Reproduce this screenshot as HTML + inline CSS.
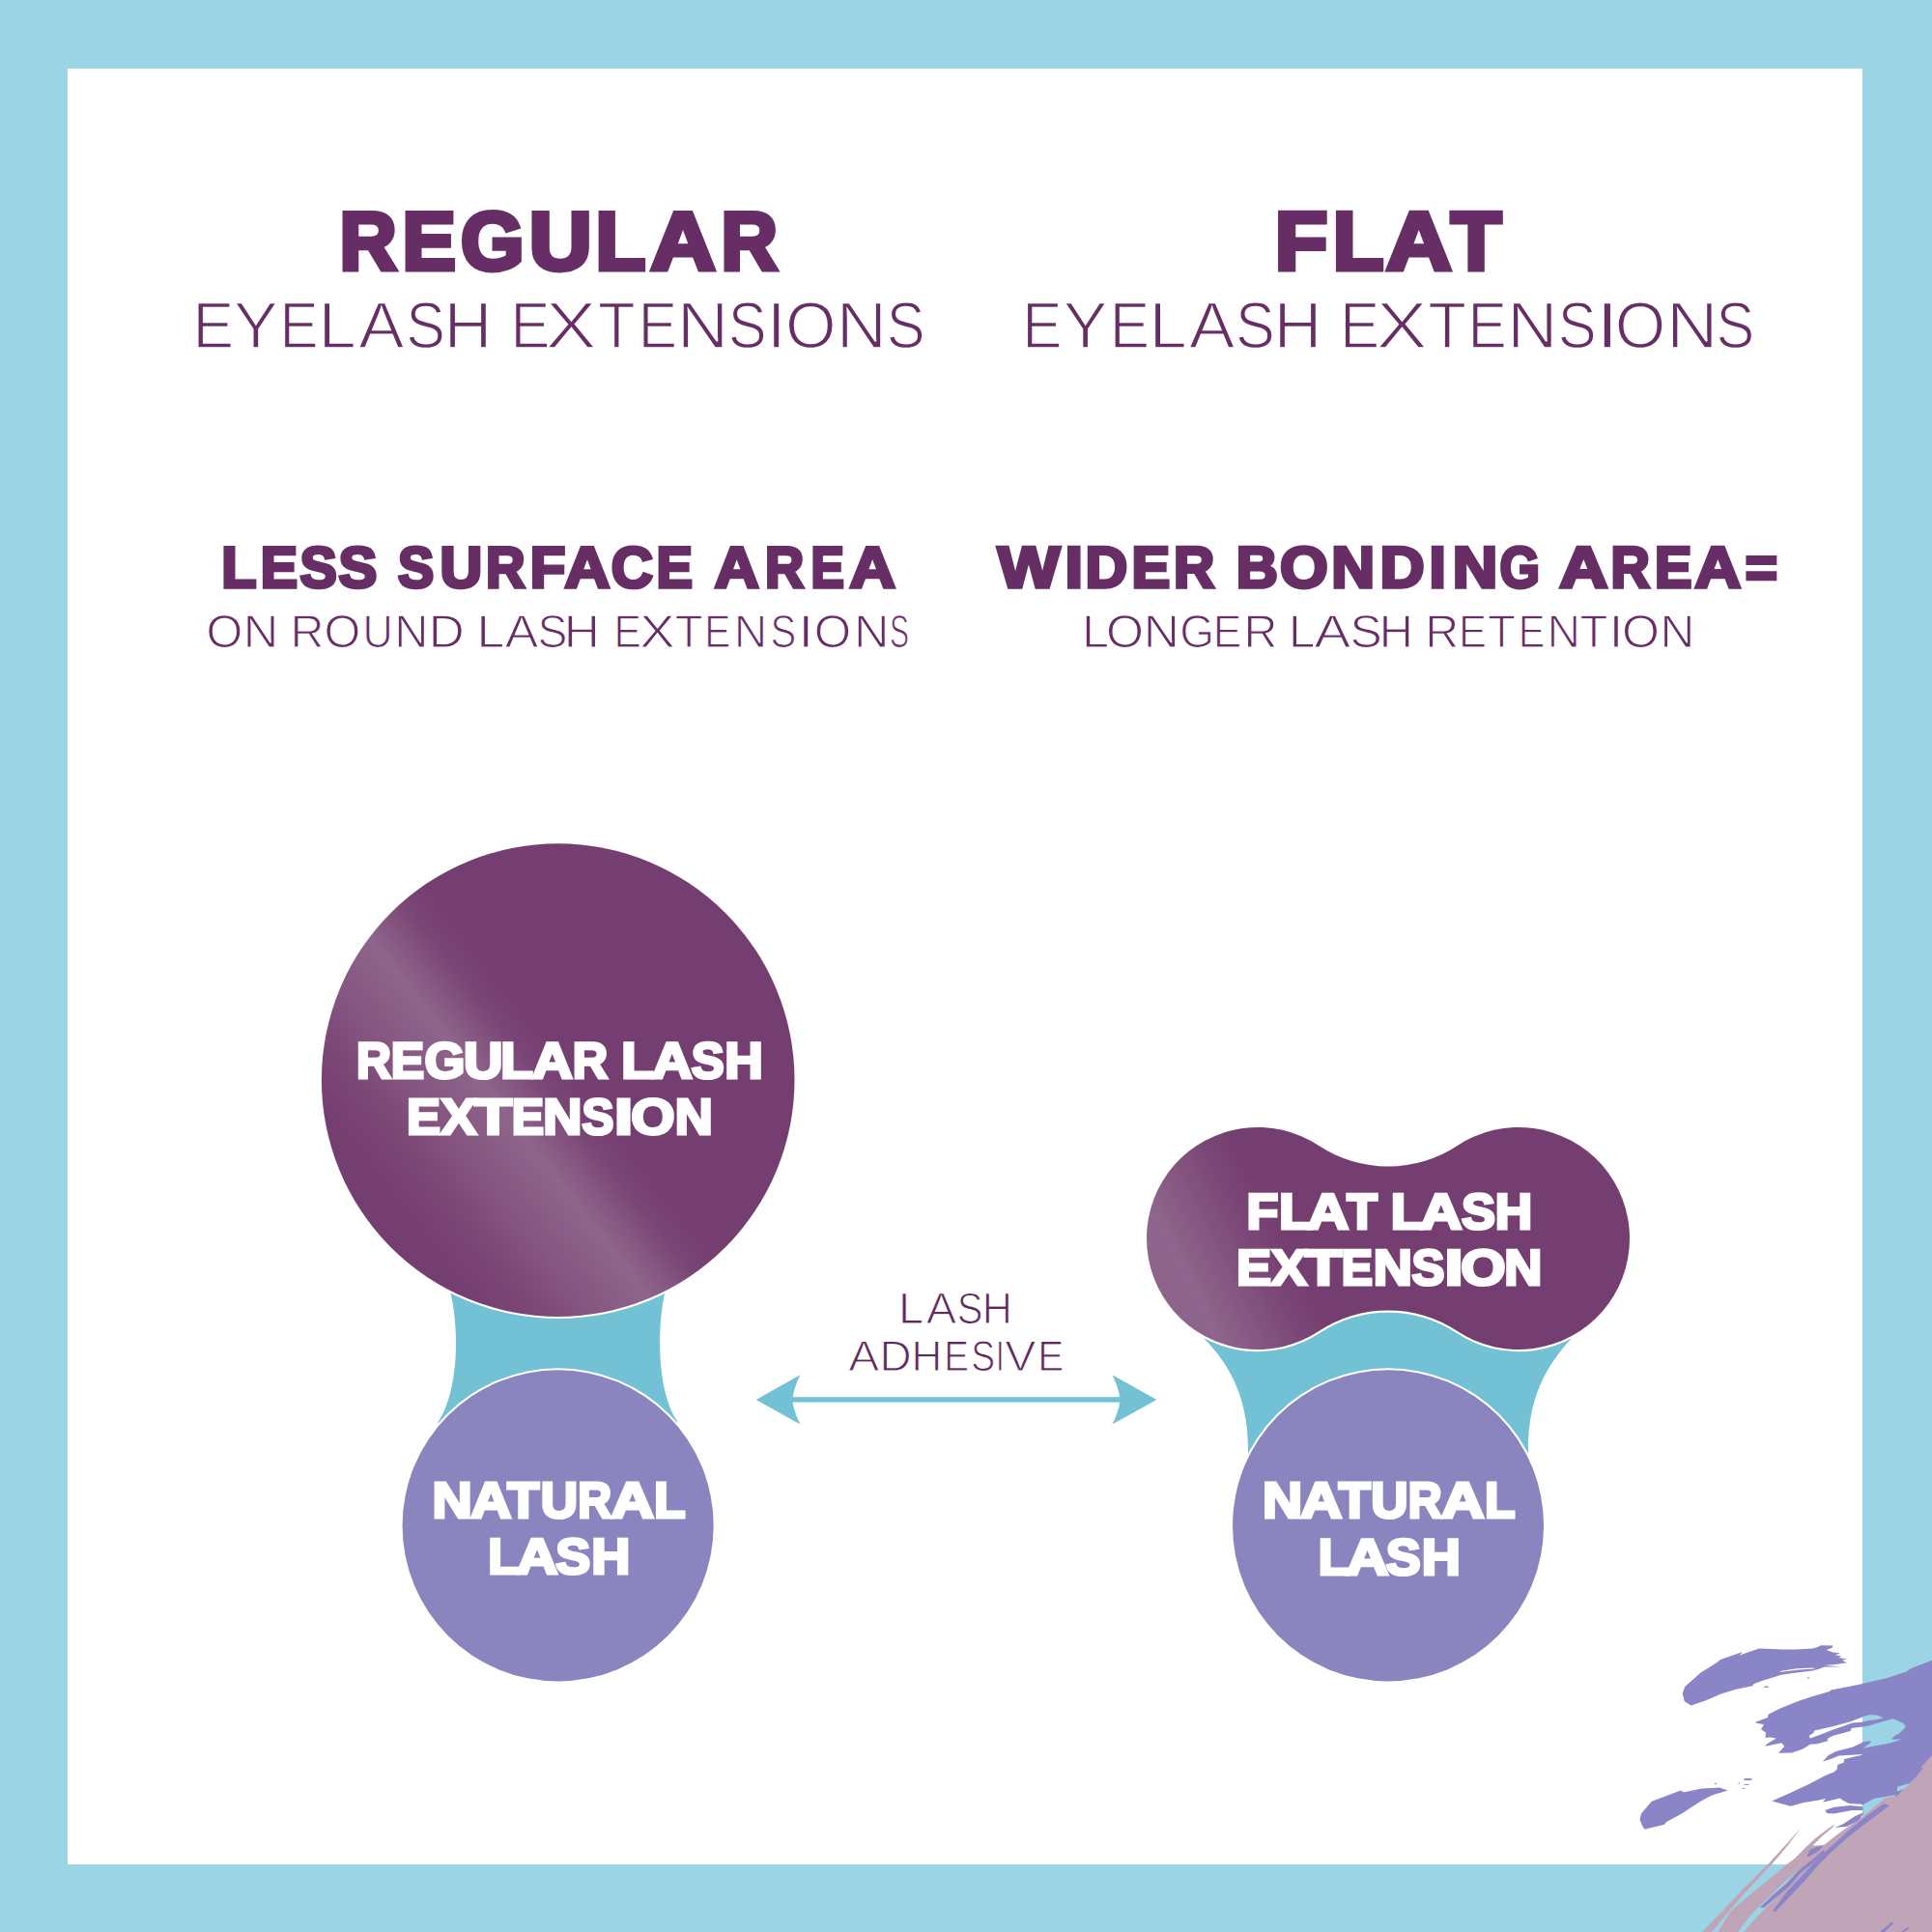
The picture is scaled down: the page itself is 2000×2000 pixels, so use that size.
<!DOCTYPE html>
<html><head><meta charset="utf-8"><title>Regular vs Flat Eyelash Extensions</title>
<style>
html,body{margin:0;padding:0;background:#9BD5E5;width:2000px;height:2000px;overflow:hidden}
svg{display:block}
text{font-family:"Liberation Sans",sans-serif;font-kerning:none;text-rendering:geometricPrecision}
</style></head><body>
<svg width="2000" height="2000" viewBox="0 0 2000 2000" xmlns="http://www.w3.org/2000/svg">
<defs>
<linearGradient id="gBig" gradientUnits="userSpaceOnUse" x1="280.6" y1="1084.1" x2="517.4" y2="899.9">
<stop offset="0" stop-color="#753E70"/>
<stop offset="0.13" stop-color="#7A4575"/>
<stop offset="0.3" stop-color="#85557F"/>
<stop offset="0.5" stop-color="#8E658C"/>
<stop offset="0.583" stop-color="#855680"/>
<stop offset="0.667" stop-color="#7A4676"/>
<stop offset="0.767" stop-color="#753E70"/>
<stop offset="1" stop-color="#753E70"/>
</linearGradient>
<linearGradient id="gFlat" gradientUnits="userSpaceOnUse" x1="1084.9" y1="1367.0" x2="1353.1" y2="1233.0">
<stop offset="0" stop-color="#8A5F88"/>
<stop offset="0.3" stop-color="#8C6289"/>
<stop offset="0.5" stop-color="#8E658C"/>
<stop offset="0.633" stop-color="#84557F"/>
<stop offset="0.75" stop-color="#7B4777"/>
<stop offset="0.85" stop-color="#753E70"/>
<stop offset="1" stop-color="#753E70"/>
</linearGradient>
</defs>
<rect x="0" y="0" width="2000" height="2000" fill="#9BD5E5"/>
<rect x="70" y="71" width="1858" height="1859" fill="#FFFFFF"/>
<!-- left diagram -->
<path d="M466.5 1338.8 L470 1300 L685 1300 L688.1 1338.8 C680 1375 680 1440 701.2 1471.6 L690 1520 L465 1520 L453.3 1472.4 C475.3 1440 475.3 1375 466.5 1338.8 Z" fill="#72C1D4"/>
<circle cx="577.7" cy="1118.1" r="247.0" fill="#FFFFFF"/>
<circle cx="577.7" cy="1118.1" r="244.8" fill="url(#gBig)"/>
<circle cx="577.6" cy="1579.35" r="163.05" fill="#FFFFFF"/>
<circle cx="577.6" cy="1579.35" r="161.05" fill="#8A85BF"/>
<!-- right diagram -->
<path d="M1246.3 1385.2 L1262 1340 L1612 1340 L1627.8 1384.6 C1599 1415 1581 1450 1582 1504.8 L1570 1540 L1300 1540 L1292 1504.8 C1293 1450 1275 1415 1246.3 1385.2 Z" fill="#72C1D4"/>
<path d="M1365.30 1185.99 A130.25 130.25 0 0 0 1508.70 1185.99 A115.0 115.0 0 1 1 1508.70 1378.01 A130.25 130.25 0 0 0 1365.30 1378.01 A115.0 115.0 0 1 1 1365.30 1185.99 Z" fill="#FFFFFF" stroke="#FFFFFF" stroke-width="4.4"/>
<path d="M1365.30 1185.99 A130.25 130.25 0 0 0 1508.70 1185.99 A115.0 115.0 0 1 1 1508.70 1378.01 A130.25 130.25 0 0 0 1365.30 1378.01 A115.0 115.0 0 1 1 1365.30 1185.99 Z" fill="url(#gFlat)"/>
<circle cx="1437.0" cy="1579.35" r="163.05" fill="#FFFFFF"/>
<circle cx="1437.0" cy="1579.35" r="161.05" fill="#8A85BF"/>
<!-- arrow -->
<rect x="815" y="1446.2" width="350" height="5.4" fill="#72C1D4"/><path d="M782.7 1448.9 L828.4 1423.2 Q822 1436 820.1 1448.9 Q822 1462 828.4 1474.5 Z" fill="#72C1D4"/><path d="M1197.5 1448.9 L1151.3 1423.2 Q1158 1436 1159.6 1448.9 Q1158 1462 1151.3 1474.5 Z" fill="#72C1D4"/>
<!-- brush decoration -->
<path d="M1741.7 1753.0 L1744.1 1746.2 L1750.5 1740.5 L1760.9 1731.2 L1771.2 1725.0 L1781.6 1717.8 L1791.9 1714.2 L1803.8 1710.0 L1800.7 1713.6 L1820.9 1706.6 L1835.0 1706.9 L1844.0 1707.6 L1858.0 1707.6 L1876.6 1706.4 L1881.2 1705.2 L1885.0 1703.2 L1897.5 1703.4 L1896.6 1705.7 L1890.5 1708.0 L1897.5 1710.4 L1905.0 1711.3 L1899.9 1713.2 L1905.9 1714.3 L1903.6 1716.0 L1912.0 1717.4 L1906.9 1718.8 L1912.0 1721.3 L1899.9 1723.0 L1888.2 1723.9 L1905.5 1725.2 L1888.0 1725.8 L1883.6 1727.6 L1876.6 1729.5 L1858.0 1731.8 L1844.0 1733.7 L1833.7 1737.0 L1825.6 1739.5 L1815.7 1743.1 L1814.2 1745.2 L1797.1 1748.8 L1781.6 1753.5 L1766.1 1760.2 L1750.5 1765.4 L1743.8 1761.3 Z M1841.6 1730.9 L1862.6 1728.5 L1879.4 1727.6 L1876.0 1726.6 L1860.0 1727.3 L1845.0 1729.6 Z" fill="#8A85C6" fill-rule="evenodd"/>
<path d="M1927.5 1743.0 L1953.8 1736.9 L1974.0 1730.2 L1977.4 1727.5 L2000.0 1718.7 L2000.0 1835.0 L1975.0 1858.0 L1955.0 1875.0 L1935.0 1890.0 L1927.5 1893.0 Z M1927.5 1777.3 L1935.0 1775.3 L1943.1 1775.6 L1949.8 1778.6 L1943.1 1780.0 L1933.6 1781.3 L1927.5 1782.7 Z M1927.5 1787.4 L1933.6 1786.7 L1947.1 1782.7 L1959.2 1779.3 L1964.6 1781.3 L1971.3 1784.7 L1972.7 1788.1 L1967.3 1793.4 L1960.6 1797.5 L1958.5 1800.8 L1968.6 1800.2 L1963.9 1802.2 L1953.8 1804.9 L1940.4 1807.6 L1928.9 1809.6 L1937.0 1803.5 L1936.3 1802.2 L1927.5 1803.5 Z M1927.5 1869.0 L1939.6 1862.1 L1962.6 1858.0 L1955.0 1868.0 L1945.0 1876.0 L1935.0 1881.0 L1927.5 1881.0 Z M1963.9 1849.7 L1979.4 1845.3 L1975.0 1850.0 L1964.0 1854.7 Z" fill="#8A85C6" fill-rule="evenodd"/>
<path d="M1817.1 1782.8 L1829.9 1777.9 L1830.5 1774.8 L1842.9 1768.5 L1862.8 1760.5 L1878.3 1755.5 L1893.9 1751.1 L1895.7 1749.6 L1928.5 1742.9 L1928.5 1777.3 L1915.6 1782.2 L1897.0 1787.2 L1878.3 1791.5 L1877.7 1793.4 L1872.7 1797.1 L1874.0 1799.6 L1887.6 1794.6 L1897.6 1790.6 L1909.4 1786.6 L1917.5 1783.4 L1928.5 1782.7 L1928.5 1787.4 L1916.8 1789.0 L1915.6 1792.1 L1897.0 1797.1 L1891.4 1800.2 L1892.6 1802.1 L1881.4 1805.2 L1874.0 1805.8 L1865.9 1810.8 L1854.7 1814.5 L1841.1 1814.8 L1847.3 1807.7 L1844.2 1804.3 L1827.4 1807.7 L1828.6 1805.8 L1838.6 1799.6 L1833.6 1798.4 L1827.4 1798.7 L1828.0 1793.4 L1823.0 1790.3 L1826.1 1785.3 L1817.5 1783.4 Z" fill="#8A85C6" />
<path d="M1886.8 1823.6 L1893.0 1817.0 L1900.5 1813.0 L1917.3 1808.7 L1928.5 1803.7 L1928.5 1816.1 L1903.6 1817.4 L1895.0 1821.0 Z" fill="#8A85C6" />
<path d="M1834.2 1864.6 L1854.9 1855.3 L1872.5 1847.0 L1890.0 1837.7 L1898.3 1834.6 L1901.7 1831.7 L1902.4 1826.7 L1908.6 1824.8 L1909.2 1821.1 L1928.5 1816.5 L1928.5 1867.7 L1914.2 1867.1 L1908.0 1864.0 L1904.8 1861.5 L1886.8 1865.8 L1890.0 1862.1 L1880.0 1864.0 L1867.0 1866.0 L1853.8 1869.8 Z" fill="#8A85C6" />
<path d="M1889.3 1873.9 L1898.6 1870.8 L1914.8 1868.9 L1928.5 1870.2 L1928.5 1874.0 L1917.3 1873.9 L1898.6 1877.6 L1891.2 1877.0 Z" fill="#8A85C6" />
<path d="M1697.5 1883.8 L1699.1 1877.2 L1709.9 1864.8 L1739.7 1853.6 L1743.0 1855.3 L1762.0 1851.4 L1780.3 1850.5 L1788.6 1853.4 L1772.0 1858.6 L1760.4 1864.8 L1741.3 1877.2 L1724.8 1886.3 L1723.1 1888.8 L1702.4 1893.8 L1699.9 1889.6 Z" fill="#8A85C6" />
<path d="M1899.3 1888.3 L1891.4 1893.7 L1879.0 1903.2 L1868.6 1913.1 L1858.3 1923.5 L1850.0 1929.7 L1822.0 1952.8 L1791.0 1978.7 L1778.6 2000.0 L2000.0 2000.0 L2000.0 1818.6 L1982.5 1840.4 L1963.9 1859.0 L1952.0 1861.0 L1928.7 1880.0 L1912.0 1892.0 L1909.0 1894.0 L1899.7 1900.7 L1887.7 1910.2 L1876.5 1910.6 L1886.4 1900.7 L1896.8 1892.0 Z" fill="#C0A5B9" />
<path d="M1864.9 1891.6 L1850.0 1908.2 L1831.0 1929.0 L1800.0 1960.0 L1770.0 1992.0 L1762.0 2000.0 L1772.0 2000.0 L1803.0 1963.0 L1835.0 1929.0 L1851.0 1910.0 Z" fill="#C0A5B9" />
<path d="M2000.0 1817.0 L1988.0 1830.0 L1991.0 1830.0 L2000.0 1821.5 Z" fill="#C0A5B9" />
<path d="M1864.0 1934.0 L1850.0 1946.0 L1830.0 1965.0 L1812.0 1983.0 L1799.0 2000.0 L1805.0 2000.0 L1818.0 1985.0 L1836.0 1967.0 L1853.0 1950.0 L1866.0 1937.0 Z" fill="#9BD5E5" />
<path d="M1950.0 1867.0 L1930.0 1881.5 L1913.0 1895.5 L1895.5 1911.5 L1879.0 1927.0 L1867.0 1940.0 L1850.0 1958.0 L1835.0 1978.0 L1838.0 1979.0 L1855.0 1961.0 L1870.0 1945.0 L1881.0 1932.0 L1897.0 1916.0 L1914.0 1901.0 L1932.0 1887.0 L1956.0 1869.0 Z" fill="#8A85C6" />
<path d="M1899.3 1892.0 L1908.0 1888.3 L1920.4 1880.0 L1930.0 1876.0 L1924.5 1884.1 L1912.1 1890.8 Z" fill="#8A85C6" />
<path d="M1870.7 1921.5 L1873.5 1915.0 L1880.0 1912.0 L1887.7 1910.2 L1884.0 1915.0 L1876.0 1920.0 L1872.0 1922.2 Z" fill="#8A85C6" />
<path d="M1888.0 1915.0 L1875.0 1926.0 L1862.0 1936.0 L1849.0 1950.0 L1835.0 1962.0 L1822.0 1974.6 L1826.0 1975.0 L1840.0 1963.0 L1853.0 1952.0 L1864.0 1939.0 L1877.0 1928.5 L1889.0 1918.0 Z" fill="#8A85C6" />
<path d="M1946.0 2000.0 L1958.0 1990.0 L1961.0 1990.0 L1951.0 2000.0 Z" fill="#8A85C6" />
<path d="M1968.0 2000.0 L1975.0 1995.0 L1977.0 1996.0 L1971.0 2000.0 Z" fill="#8A85C6" />
<ellipse cx="1828.5" cy="1746.2" rx="2.6" ry="0.7" fill="#8A85C6"/>
<ellipse cx="1872" cy="1737" rx="1.2" ry="0.8" fill="#8A85C6"/>
<ellipse cx="1800.3" cy="1846" rx="0.8" ry="0.7" fill="#8A85C6"/>
<ellipse cx="1776" cy="1846.5" rx="1.2" ry="0.7" fill="#8A85C6"/>
<ellipse cx="1809.5" cy="1842" rx="4.5" ry="1.1" fill="#8A85C6"/>
<ellipse cx="1808" cy="1847.5" rx="3" ry="0.6" fill="#8A85C6"/>
<ellipse cx="1805" cy="1851.5" rx="1.5" ry="0.6" fill="#8A85C6"/>
<!-- text -->
<text x="351.46" y="278.95" font-size="85.03" font-weight="bold" textLength="59.21" lengthAdjust="spacingAndGlyphs" fill="#672D65" stroke="#672D65" stroke-width="5.10" stroke-linejoin="miter" stroke-miterlimit="4">R</text>
<text x="416.40" y="278.95" font-size="85.03" font-weight="bold" textLength="55.33" lengthAdjust="spacingAndGlyphs" fill="#672D65" stroke="#672D65" stroke-width="5.10" stroke-linejoin="miter" stroke-miterlimit="4">E</text>
<text x="476.99" y="278.95" font-size="85.03" font-weight="bold" textLength="65.53" lengthAdjust="spacingAndGlyphs" fill="#672D65" stroke="#672D65" stroke-width="5.10" stroke-linejoin="miter" stroke-miterlimit="4">G</text>
<text x="547.75" y="278.95" font-size="85.03" font-weight="bold" textLength="64.91" lengthAdjust="spacingAndGlyphs" fill="#672D65" stroke="#672D65" stroke-width="5.10" stroke-linejoin="miter" stroke-miterlimit="4">U</text>
<text x="616.58" y="278.95" font-size="85.03" font-weight="bold" textLength="51.75" lengthAdjust="spacingAndGlyphs" fill="#672D65" stroke="#672D65" stroke-width="5.10" stroke-linejoin="miter" stroke-miterlimit="4">L</text>
<text x="673.64" y="278.95" font-size="85.03" font-weight="bold" textLength="67.08" lengthAdjust="spacingAndGlyphs" fill="#672D65" stroke="#672D65" stroke-width="5.10" stroke-linejoin="miter" stroke-miterlimit="4">A</text>
<text x="746.54" y="278.95" font-size="85.03" font-weight="bold" textLength="58.39" lengthAdjust="spacingAndGlyphs" fill="#672D65" stroke="#672D65" stroke-width="5.10" stroke-linejoin="miter" stroke-miterlimit="4">R</text>
<text x="199.57" y="360.31" font-size="67.62" font-weight="normal" textLength="42.65" lengthAdjust="spacingAndGlyphs" fill="#672D65" stroke="#fff" stroke-width="1.62" stroke-linejoin="miter" stroke-miterlimit="4">E</text>
<text x="241.90" y="360.31" font-size="67.62" font-weight="normal" textLength="45.77" lengthAdjust="spacingAndGlyphs" fill="#672D65" stroke="#fff" stroke-width="1.62" stroke-linejoin="miter" stroke-miterlimit="4">Y</text>
<text x="289.58" y="360.31" font-size="67.62" font-weight="normal" textLength="40.10" lengthAdjust="spacingAndGlyphs" fill="#672D65" stroke="#fff" stroke-width="1.62" stroke-linejoin="miter" stroke-miterlimit="4">E</text>
<text x="329.62" y="360.31" font-size="67.62" font-weight="normal" textLength="39.26" lengthAdjust="spacingAndGlyphs" fill="#672D65" stroke="#fff" stroke-width="1.62" stroke-linejoin="miter" stroke-miterlimit="4">L</text>
<text x="371.17" y="360.31" font-size="67.62" font-weight="normal" textLength="47.22" lengthAdjust="spacingAndGlyphs" fill="#672D65" stroke="#fff" stroke-width="1.62" stroke-linejoin="miter" stroke-miterlimit="4">A</text>
<text x="420.14" y="360.31" font-size="67.62" font-weight="normal" textLength="40.77" lengthAdjust="spacingAndGlyphs" fill="#672D65" stroke="#fff" stroke-width="1.62" stroke-linejoin="miter" stroke-miterlimit="4">S</text>
<text x="459.89" y="360.31" font-size="67.62" font-weight="normal" textLength="49.48" lengthAdjust="spacingAndGlyphs" fill="#672D65" stroke="#fff" stroke-width="1.62" stroke-linejoin="miter" stroke-miterlimit="4">H</text>
<text x="528.39" y="360.31" font-size="67.62" font-weight="normal" textLength="40.86" lengthAdjust="spacingAndGlyphs" fill="#672D65" stroke="#fff" stroke-width="1.62" stroke-linejoin="miter" stroke-miterlimit="4">E</text>
<text x="564.83" y="360.31" font-size="67.62" font-weight="normal" textLength="52.83" lengthAdjust="spacingAndGlyphs" fill="#672D65" stroke="#fff" stroke-width="1.62" stroke-linejoin="miter" stroke-miterlimit="4">X</text>
<text x="618.99" y="360.31" font-size="67.62" font-weight="normal" textLength="38.64" lengthAdjust="spacingAndGlyphs" fill="#672D65" stroke="#fff" stroke-width="1.62" stroke-linejoin="miter" stroke-miterlimit="4">T</text>
<text x="660.65" y="360.31" font-size="67.62" font-weight="normal" textLength="40.34" lengthAdjust="spacingAndGlyphs" fill="#672D65" stroke="#fff" stroke-width="1.62" stroke-linejoin="miter" stroke-miterlimit="4">E</text>
<text x="700.83" y="360.31" font-size="67.62" font-weight="normal" textLength="53.53" lengthAdjust="spacingAndGlyphs" fill="#672D65" stroke="#fff" stroke-width="1.62" stroke-linejoin="miter" stroke-miterlimit="4">N</text>
<text x="753.80" y="360.31" font-size="67.62" font-weight="normal" textLength="39.87" lengthAdjust="spacingAndGlyphs" fill="#672D65" stroke="#fff" stroke-width="1.62" stroke-linejoin="miter" stroke-miterlimit="4">S</text>
<text x="793.83" y="360.31" font-size="67.62" font-weight="normal" textLength="19.82" lengthAdjust="spacingAndGlyphs" fill="#672D65" stroke="#fff" stroke-width="1.62" stroke-linejoin="miter" stroke-miterlimit="4">I</text>
<text x="812.91" y="360.31" font-size="67.62" font-weight="normal" textLength="52.58" lengthAdjust="spacingAndGlyphs" fill="#672D65" stroke="#fff" stroke-width="1.62" stroke-linejoin="miter" stroke-miterlimit="4">O</text>
<text x="865.88" y="360.31" font-size="67.62" font-weight="normal" textLength="52.22" lengthAdjust="spacingAndGlyphs" fill="#672D65" stroke="#fff" stroke-width="1.62" stroke-linejoin="miter" stroke-miterlimit="4">N</text>
<text x="917.70" y="360.31" font-size="67.62" font-weight="normal" textLength="39.83" lengthAdjust="spacingAndGlyphs" fill="#672D65" stroke="#fff" stroke-width="1.62" stroke-linejoin="miter" stroke-miterlimit="4">S</text>
<text x="1319.82" y="279.45" font-size="85.16" font-weight="bold" textLength="54.57" lengthAdjust="spacingAndGlyphs" fill="#672D65" stroke="#672D65" stroke-width="5.11" stroke-linejoin="miter" stroke-miterlimit="4">F</text>
<text x="1379.89" y="279.45" font-size="85.16" font-weight="bold" textLength="52.59" lengthAdjust="spacingAndGlyphs" fill="#672D65" stroke="#672D65" stroke-width="5.11" stroke-linejoin="miter" stroke-miterlimit="4">L</text>
<text x="1435.12" y="279.45" font-size="85.16" font-weight="bold" textLength="67.57" lengthAdjust="spacingAndGlyphs" fill="#672D65" stroke="#672D65" stroke-width="5.11" stroke-linejoin="miter" stroke-miterlimit="4">A</text>
<text x="1501.99" y="279.45" font-size="85.16" font-weight="bold" textLength="52.17" lengthAdjust="spacingAndGlyphs" fill="#672D65" stroke="#672D65" stroke-width="5.11" stroke-linejoin="miter" stroke-miterlimit="4">T</text>
<text x="1058.14" y="360.31" font-size="67.62" font-weight="normal" textLength="41.24" lengthAdjust="spacingAndGlyphs" fill="#672D65" stroke="#fff" stroke-width="1.62" stroke-linejoin="miter" stroke-miterlimit="4">E</text>
<text x="1100.80" y="360.31" font-size="67.62" font-weight="normal" textLength="45.77" lengthAdjust="spacingAndGlyphs" fill="#672D65" stroke="#fff" stroke-width="1.62" stroke-linejoin="miter" stroke-miterlimit="4">Y</text>
<text x="1148.83" y="360.31" font-size="67.62" font-weight="normal" textLength="41.35" lengthAdjust="spacingAndGlyphs" fill="#672D65" stroke="#fff" stroke-width="1.62" stroke-linejoin="miter" stroke-miterlimit="4">E</text>
<text x="1189.52" y="360.31" font-size="67.62" font-weight="normal" textLength="39.26" lengthAdjust="spacingAndGlyphs" fill="#672D65" stroke="#fff" stroke-width="1.62" stroke-linejoin="miter" stroke-miterlimit="4">L</text>
<text x="1231.07" y="360.31" font-size="67.62" font-weight="normal" textLength="47.27" lengthAdjust="spacingAndGlyphs" fill="#672D65" stroke="#fff" stroke-width="1.62" stroke-linejoin="miter" stroke-miterlimit="4">A</text>
<text x="1279.03" y="360.31" font-size="67.62" font-weight="normal" textLength="40.81" lengthAdjust="spacingAndGlyphs" fill="#672D65" stroke="#fff" stroke-width="1.62" stroke-linejoin="miter" stroke-miterlimit="4">S</text>
<text x="1318.79" y="360.31" font-size="67.62" font-weight="normal" textLength="49.51" lengthAdjust="spacingAndGlyphs" fill="#672D65" stroke="#fff" stroke-width="1.62" stroke-linejoin="miter" stroke-miterlimit="4">H</text>
<text x="1387.29" y="360.31" font-size="67.62" font-weight="normal" textLength="40.86" lengthAdjust="spacingAndGlyphs" fill="#672D65" stroke="#fff" stroke-width="1.62" stroke-linejoin="miter" stroke-miterlimit="4">E</text>
<text x="1424.73" y="360.31" font-size="67.62" font-weight="normal" textLength="52.83" lengthAdjust="spacingAndGlyphs" fill="#672D65" stroke="#fff" stroke-width="1.62" stroke-linejoin="miter" stroke-miterlimit="4">X</text>
<text x="1478.35" y="360.31" font-size="67.62" font-weight="normal" textLength="39.77" lengthAdjust="spacingAndGlyphs" fill="#672D65" stroke="#fff" stroke-width="1.62" stroke-linejoin="miter" stroke-miterlimit="4">T</text>
<text x="1519.55" y="360.31" font-size="67.62" font-weight="normal" textLength="40.34" lengthAdjust="spacingAndGlyphs" fill="#672D65" stroke="#fff" stroke-width="1.62" stroke-linejoin="miter" stroke-miterlimit="4">E</text>
<text x="1560.38" y="360.31" font-size="67.62" font-weight="normal" textLength="52.19" lengthAdjust="spacingAndGlyphs" fill="#672D65" stroke="#fff" stroke-width="1.62" stroke-linejoin="miter" stroke-miterlimit="4">N</text>
<text x="1612.70" y="360.31" font-size="67.62" font-weight="normal" textLength="39.87" lengthAdjust="spacingAndGlyphs" fill="#672D65" stroke="#fff" stroke-width="1.62" stroke-linejoin="miter" stroke-miterlimit="4">S</text>
<text x="1651.58" y="360.31" font-size="67.62" font-weight="normal" textLength="24.78" lengthAdjust="spacingAndGlyphs" fill="#672D65" stroke="#fff" stroke-width="1.62" stroke-linejoin="miter" stroke-miterlimit="4">I</text>
<text x="1671.81" y="360.31" font-size="67.62" font-weight="normal" textLength="52.58" lengthAdjust="spacingAndGlyphs" fill="#672D65" stroke="#fff" stroke-width="1.62" stroke-linejoin="miter" stroke-miterlimit="4">O</text>
<text x="1725.13" y="360.31" font-size="67.62" font-weight="normal" textLength="53.53" lengthAdjust="spacingAndGlyphs" fill="#672D65" stroke="#fff" stroke-width="1.62" stroke-linejoin="miter" stroke-miterlimit="4">N</text>
<text x="1776.60" y="360.31" font-size="67.62" font-weight="normal" textLength="39.79" lengthAdjust="spacingAndGlyphs" fill="#672D65" stroke="#fff" stroke-width="1.62" stroke-linejoin="miter" stroke-miterlimit="4">S</text>
<text x="229.14" y="607.70" font-size="59.89" font-weight="bold" textLength="36.17" lengthAdjust="spacingAndGlyphs" fill="#672D65" stroke="#672D65" stroke-width="3.59" stroke-linejoin="miter" stroke-miterlimit="4">L</text>
<text x="269.87" y="607.70" font-size="59.89" font-weight="bold" textLength="38.26" lengthAdjust="spacingAndGlyphs" fill="#672D65" stroke="#672D65" stroke-width="3.59" stroke-linejoin="miter" stroke-miterlimit="4">E</text>
<text x="310.55" y="607.70" font-size="59.89" font-weight="bold" textLength="38.27" lengthAdjust="spacingAndGlyphs" fill="#672D65" stroke="#672D65" stroke-width="3.59" stroke-linejoin="miter" stroke-miterlimit="4">S</text>
<text x="350.49" y="607.70" font-size="59.89" font-weight="bold" textLength="39.77" lengthAdjust="spacingAndGlyphs" fill="#672D65" stroke="#672D65" stroke-width="3.59" stroke-linejoin="miter" stroke-miterlimit="4">S</text>
<text x="412.00" y="607.70" font-size="59.89" font-weight="bold" textLength="37.17" lengthAdjust="spacingAndGlyphs" fill="#672D65" stroke="#672D65" stroke-width="3.59" stroke-linejoin="miter" stroke-miterlimit="4">S</text>
<text x="455.57" y="607.70" font-size="59.89" font-weight="bold" textLength="43.70" lengthAdjust="spacingAndGlyphs" fill="#672D65" stroke="#672D65" stroke-width="3.59" stroke-linejoin="miter" stroke-miterlimit="4">U</text>
<text x="502.94" y="607.70" font-size="59.89" font-weight="bold" textLength="40.64" lengthAdjust="spacingAndGlyphs" fill="#672D65" stroke="#672D65" stroke-width="3.59" stroke-linejoin="miter" stroke-miterlimit="4">R</text>
<text x="548.70" y="607.70" font-size="59.89" font-weight="bold" textLength="36.58" lengthAdjust="spacingAndGlyphs" fill="#672D65" stroke="#672D65" stroke-width="3.59" stroke-linejoin="miter" stroke-miterlimit="4">F</text>
<text x="584.49" y="607.70" font-size="59.89" font-weight="bold" textLength="46.90" lengthAdjust="spacingAndGlyphs" fill="#672D65" stroke="#672D65" stroke-width="3.59" stroke-linejoin="miter" stroke-miterlimit="4">A</text>
<text x="632.65" y="607.70" font-size="59.89" font-weight="bold" textLength="43.12" lengthAdjust="spacingAndGlyphs" fill="#672D65" stroke="#672D65" stroke-width="3.59" stroke-linejoin="miter" stroke-miterlimit="4">C</text>
<text x="679.45" y="607.70" font-size="59.89" font-weight="bold" textLength="37.46" lengthAdjust="spacingAndGlyphs" fill="#672D65" stroke="#672D65" stroke-width="3.59" stroke-linejoin="miter" stroke-miterlimit="4">E</text>
<text x="739.72" y="607.70" font-size="59.89" font-weight="bold" textLength="45.97" lengthAdjust="spacingAndGlyphs" fill="#672D65" stroke="#672D65" stroke-width="3.59" stroke-linejoin="miter" stroke-miterlimit="4">A</text>
<text x="791.98" y="607.70" font-size="59.89" font-weight="bold" textLength="40.22" lengthAdjust="spacingAndGlyphs" fill="#672D65" stroke="#672D65" stroke-width="3.59" stroke-linejoin="miter" stroke-miterlimit="4">R</text>
<text x="839.46" y="607.70" font-size="59.89" font-weight="bold" textLength="34.31" lengthAdjust="spacingAndGlyphs" fill="#672D65" stroke="#672D65" stroke-width="3.59" stroke-linejoin="miter" stroke-miterlimit="4">E</text>
<text x="879.47" y="607.70" font-size="59.89" font-weight="bold" textLength="47.38" lengthAdjust="spacingAndGlyphs" fill="#672D65" stroke="#672D65" stroke-width="3.59" stroke-linejoin="miter" stroke-miterlimit="4">A</text>
<text x="213.47" y="669.57" font-size="47.59" font-weight="normal" textLength="37.81" lengthAdjust="spacingAndGlyphs" fill="#672D65" stroke="#fff" stroke-width="1.14" stroke-linejoin="miter" stroke-miterlimit="4">O</text>
<text x="251.72" y="669.57" font-size="47.59" font-weight="normal" textLength="36.50" lengthAdjust="spacingAndGlyphs" fill="#672D65" stroke="#fff" stroke-width="1.14" stroke-linejoin="miter" stroke-miterlimit="4">N</text>
<text x="300.60" y="669.57" font-size="47.59" font-weight="normal" textLength="34.96" lengthAdjust="spacingAndGlyphs" fill="#672D65" stroke="#fff" stroke-width="1.14" stroke-linejoin="miter" stroke-miterlimit="4">R</text>
<text x="335.47" y="669.57" font-size="47.59" font-weight="normal" textLength="37.81" lengthAdjust="spacingAndGlyphs" fill="#672D65" stroke="#fff" stroke-width="1.14" stroke-linejoin="miter" stroke-miterlimit="4">O</text>
<text x="375.54" y="669.57" font-size="47.59" font-weight="normal" textLength="31.21" lengthAdjust="spacingAndGlyphs" fill="#672D65" stroke="#fff" stroke-width="1.14" stroke-linejoin="miter" stroke-miterlimit="4">U</text>
<text x="408.17" y="669.57" font-size="47.59" font-weight="normal" textLength="35.19" lengthAdjust="spacingAndGlyphs" fill="#672D65" stroke="#fff" stroke-width="1.14" stroke-linejoin="miter" stroke-miterlimit="4">N</text>
<text x="443.78" y="669.57" font-size="47.59" font-weight="normal" textLength="36.92" lengthAdjust="spacingAndGlyphs" fill="#672D65" stroke="#fff" stroke-width="1.14" stroke-linejoin="miter" stroke-miterlimit="4">D</text>
<text x="493.53" y="669.57" font-size="47.59" font-weight="normal" textLength="28.75" lengthAdjust="spacingAndGlyphs" fill="#672D65" stroke="#fff" stroke-width="1.14" stroke-linejoin="miter" stroke-miterlimit="4">L</text>
<text x="522.67" y="669.57" font-size="47.59" font-weight="normal" textLength="34.53" lengthAdjust="spacingAndGlyphs" fill="#672D65" stroke="#fff" stroke-width="1.14" stroke-linejoin="miter" stroke-miterlimit="4">A</text>
<text x="556.57" y="669.57" font-size="47.59" font-weight="normal" textLength="30.90" lengthAdjust="spacingAndGlyphs" fill="#672D65" stroke="#fff" stroke-width="1.14" stroke-linejoin="miter" stroke-miterlimit="4">S</text>
<text x="583.75" y="669.57" font-size="47.59" font-weight="normal" textLength="37.17" lengthAdjust="spacingAndGlyphs" fill="#672D65" stroke="#fff" stroke-width="1.14" stroke-linejoin="miter" stroke-miterlimit="4">H</text>
<text x="635.48" y="669.57" font-size="47.59" font-weight="normal" textLength="28.35" lengthAdjust="spacingAndGlyphs" fill="#672D65" stroke="#fff" stroke-width="1.14" stroke-linejoin="miter" stroke-miterlimit="4">E</text>
<text x="662.25" y="669.57" font-size="47.59" font-weight="normal" textLength="36.37" lengthAdjust="spacingAndGlyphs" fill="#672D65" stroke="#fff" stroke-width="1.14" stroke-linejoin="miter" stroke-miterlimit="4">X</text>
<text x="698.81" y="669.57" font-size="47.59" font-weight="normal" textLength="28.77" lengthAdjust="spacingAndGlyphs" fill="#672D65" stroke="#fff" stroke-width="1.14" stroke-linejoin="miter" stroke-miterlimit="4">T</text>
<text x="729.13" y="669.57" font-size="47.59" font-weight="normal" textLength="27.13" lengthAdjust="spacingAndGlyphs" fill="#672D65" stroke="#fff" stroke-width="1.14" stroke-linejoin="miter" stroke-miterlimit="4">E</text>
<text x="759.75" y="669.57" font-size="47.59" font-weight="normal" textLength="34.49" lengthAdjust="spacingAndGlyphs" fill="#672D65" stroke="#fff" stroke-width="1.14" stroke-linejoin="miter" stroke-miterlimit="4">N</text>
<text x="797.45" y="669.57" font-size="47.59" font-weight="normal" textLength="26.69" lengthAdjust="spacingAndGlyphs" fill="#672D65" stroke="#fff" stroke-width="1.14" stroke-linejoin="miter" stroke-miterlimit="4">S</text>
<text x="826.24" y="669.57" font-size="47.59" font-weight="normal" textLength="16.05" lengthAdjust="spacingAndGlyphs" fill="#672D65" stroke="#fff" stroke-width="1.14" stroke-linejoin="miter" stroke-miterlimit="4">I</text>
<text x="842.83" y="669.57" font-size="47.59" font-weight="normal" textLength="38.40" lengthAdjust="spacingAndGlyphs" fill="#672D65" stroke="#fff" stroke-width="1.14" stroke-linejoin="miter" stroke-miterlimit="4">O</text>
<text x="884.03" y="669.57" font-size="47.59" font-weight="normal" textLength="36.49" lengthAdjust="spacingAndGlyphs" fill="#672D65" stroke="#fff" stroke-width="1.14" stroke-linejoin="miter" stroke-miterlimit="4">N</text>
<text x="921.01" y="669.57" font-size="47.59" font-weight="normal" textLength="20.03" lengthAdjust="spacingAndGlyphs" fill="#672D65" stroke="#fff" stroke-width="1.14" stroke-linejoin="miter" stroke-miterlimit="4">S</text>
<text x="1032.73" y="607.70" font-size="60.16" font-weight="bold" textLength="64.46" lengthAdjust="spacingAndGlyphs" fill="#672D65" stroke="#672D65" stroke-width="3.61" stroke-linejoin="miter" stroke-miterlimit="4">W</text>
<text x="1102.45" y="607.70" font-size="60.16" font-weight="bold" textLength="18.48" lengthAdjust="spacingAndGlyphs" fill="#672D65" stroke="#672D65" stroke-width="3.61" stroke-linejoin="miter" stroke-miterlimit="4">I</text>
<text x="1123.55" y="607.70" font-size="60.16" font-weight="bold" textLength="43.70" lengthAdjust="spacingAndGlyphs" fill="#672D65" stroke="#672D65" stroke-width="3.61" stroke-linejoin="miter" stroke-miterlimit="4">D</text>
<text x="1171.52" y="607.70" font-size="60.16" font-weight="bold" textLength="39.67" lengthAdjust="spacingAndGlyphs" fill="#672D65" stroke="#672D65" stroke-width="3.61" stroke-linejoin="miter" stroke-miterlimit="4">E</text>
<text x="1214.88" y="607.70" font-size="60.16" font-weight="bold" textLength="42.26" lengthAdjust="spacingAndGlyphs" fill="#672D65" stroke="#672D65" stroke-width="3.61" stroke-linejoin="miter" stroke-miterlimit="4">R</text>
<text x="1279.71" y="607.70" font-size="60.16" font-weight="bold" textLength="43.01" lengthAdjust="spacingAndGlyphs" fill="#672D65" stroke="#672D65" stroke-width="3.61" stroke-linejoin="miter" stroke-miterlimit="4">B</text>
<text x="1324.97" y="607.70" font-size="60.16" font-weight="bold" textLength="49.70" lengthAdjust="spacingAndGlyphs" fill="#672D65" stroke="#672D65" stroke-width="3.61" stroke-linejoin="miter" stroke-miterlimit="4">O</text>
<text x="1378.34" y="607.70" font-size="60.16" font-weight="bold" textLength="44.83" lengthAdjust="spacingAndGlyphs" fill="#672D65" stroke="#672D65" stroke-width="3.61" stroke-linejoin="miter" stroke-miterlimit="4">N</text>
<text x="1428.42" y="607.70" font-size="60.16" font-weight="bold" textLength="46.12" lengthAdjust="spacingAndGlyphs" fill="#672D65" stroke="#672D65" stroke-width="3.61" stroke-linejoin="miter" stroke-miterlimit="4">D</text>
<text x="1479.63" y="607.70" font-size="60.16" font-weight="bold" textLength="17.29" lengthAdjust="spacingAndGlyphs" fill="#672D65" stroke="#672D65" stroke-width="3.61" stroke-linejoin="miter" stroke-miterlimit="4">I</text>
<text x="1503.69" y="607.70" font-size="60.16" font-weight="bold" textLength="46.50" lengthAdjust="spacingAndGlyphs" fill="#672D65" stroke="#672D65" stroke-width="3.61" stroke-linejoin="miter" stroke-miterlimit="4">N</text>
<text x="1552.51" y="607.70" font-size="60.16" font-weight="bold" textLength="41.40" lengthAdjust="spacingAndGlyphs" fill="#672D65" stroke="#672D65" stroke-width="3.61" stroke-linejoin="miter" stroke-miterlimit="4">G</text>
<text x="1614.27" y="607.70" font-size="60.16" font-weight="bold" textLength="50.14" lengthAdjust="spacingAndGlyphs" fill="#672D65" stroke="#672D65" stroke-width="3.61" stroke-linejoin="miter" stroke-miterlimit="4">A</text>
<text x="1667.45" y="607.70" font-size="60.16" font-weight="bold" textLength="40.38" lengthAdjust="spacingAndGlyphs" fill="#672D65" stroke="#672D65" stroke-width="3.61" stroke-linejoin="miter" stroke-miterlimit="4">R</text>
<text x="1713.05" y="607.70" font-size="60.16" font-weight="bold" textLength="38.37" lengthAdjust="spacingAndGlyphs" fill="#672D65" stroke="#672D65" stroke-width="3.61" stroke-linejoin="miter" stroke-miterlimit="4">E</text>
<text x="1754.45" y="607.70" font-size="60.16" font-weight="bold" textLength="47.67" lengthAdjust="spacingAndGlyphs" fill="#672D65" stroke="#672D65" stroke-width="3.61" stroke-linejoin="miter" stroke-miterlimit="4">A</text>
<text x="1806.73" y="607.70" font-size="60.16" font-weight="bold" textLength="33.23" lengthAdjust="spacingAndGlyphs" fill="#672D65" stroke="#672D65" stroke-width="3.61" stroke-linejoin="miter" stroke-miterlimit="4">=</text>
<text x="1119.93" y="670.07" font-size="47.74" font-weight="normal" textLength="28.08" lengthAdjust="spacingAndGlyphs" fill="#672D65" stroke="#fff" stroke-width="1.15" stroke-linejoin="miter" stroke-miterlimit="4">L</text>
<text x="1145.10" y="670.07" font-size="47.74" font-weight="normal" textLength="39.02" lengthAdjust="spacingAndGlyphs" fill="#672D65" stroke="#fff" stroke-width="1.15" stroke-linejoin="miter" stroke-miterlimit="4">O</text>
<text x="1183.75" y="670.07" font-size="47.74" font-weight="normal" textLength="37.17" lengthAdjust="spacingAndGlyphs" fill="#672D65" stroke="#fff" stroke-width="1.15" stroke-linejoin="miter" stroke-miterlimit="4">N</text>
<text x="1221.25" y="670.07" font-size="47.74" font-weight="normal" textLength="35.87" lengthAdjust="spacingAndGlyphs" fill="#672D65" stroke="#fff" stroke-width="1.15" stroke-linejoin="miter" stroke-miterlimit="4">G</text>
<text x="1255.83" y="670.07" font-size="47.74" font-weight="normal" textLength="29.64" lengthAdjust="spacingAndGlyphs" fill="#672D65" stroke="#fff" stroke-width="1.15" stroke-linejoin="miter" stroke-miterlimit="4">E</text>
<text x="1287.61" y="670.07" font-size="47.74" font-weight="normal" textLength="34.91" lengthAdjust="spacingAndGlyphs" fill="#672D65" stroke="#fff" stroke-width="1.15" stroke-linejoin="miter" stroke-miterlimit="4">R</text>
<text x="1333.94" y="670.07" font-size="47.74" font-weight="normal" textLength="27.37" lengthAdjust="spacingAndGlyphs" fill="#672D65" stroke="#fff" stroke-width="1.15" stroke-linejoin="miter" stroke-miterlimit="4">L</text>
<text x="1360.56" y="670.07" font-size="47.74" font-weight="normal" textLength="37.62" lengthAdjust="spacingAndGlyphs" fill="#672D65" stroke="#fff" stroke-width="1.15" stroke-linejoin="miter" stroke-miterlimit="4">A</text>
<text x="1397.41" y="670.07" font-size="47.74" font-weight="normal" textLength="33.27" lengthAdjust="spacingAndGlyphs" fill="#672D65" stroke="#fff" stroke-width="1.15" stroke-linejoin="miter" stroke-miterlimit="4">S</text>
<text x="1427.78" y="670.07" font-size="47.74" font-weight="normal" textLength="35.16" lengthAdjust="spacingAndGlyphs" fill="#672D65" stroke="#fff" stroke-width="1.15" stroke-linejoin="miter" stroke-miterlimit="4">H</text>
<text x="1475.30" y="670.07" font-size="47.74" font-weight="normal" textLength="34.94" lengthAdjust="spacingAndGlyphs" fill="#672D65" stroke="#fff" stroke-width="1.15" stroke-linejoin="miter" stroke-miterlimit="4">R</text>
<text x="1509.91" y="670.07" font-size="47.74" font-weight="normal" textLength="28.99" lengthAdjust="spacingAndGlyphs" fill="#672D65" stroke="#fff" stroke-width="1.15" stroke-linejoin="miter" stroke-miterlimit="4">E</text>
<text x="1540.11" y="670.07" font-size="47.74" font-weight="normal" textLength="28.79" lengthAdjust="spacingAndGlyphs" fill="#672D65" stroke="#fff" stroke-width="1.15" stroke-linejoin="miter" stroke-miterlimit="4">T</text>
<text x="1571.77" y="670.07" font-size="47.74" font-weight="normal" textLength="27.71" lengthAdjust="spacingAndGlyphs" fill="#672D65" stroke="#fff" stroke-width="1.15" stroke-linejoin="miter" stroke-miterlimit="4">E</text>
<text x="1601.55" y="670.07" font-size="47.74" font-weight="normal" textLength="34.52" lengthAdjust="spacingAndGlyphs" fill="#672D65" stroke="#fff" stroke-width="1.15" stroke-linejoin="miter" stroke-miterlimit="4">N</text>
<text x="1635.41" y="670.07" font-size="47.74" font-weight="normal" textLength="28.79" lengthAdjust="spacingAndGlyphs" fill="#672D65" stroke="#fff" stroke-width="1.15" stroke-linejoin="miter" stroke-miterlimit="4">T</text>
<text x="1665.66" y="670.07" font-size="47.74" font-weight="normal" textLength="14.49" lengthAdjust="spacingAndGlyphs" fill="#672D65" stroke="#fff" stroke-width="1.15" stroke-linejoin="miter" stroke-miterlimit="4">I</text>
<text x="1679.00" y="670.07" font-size="47.74" font-weight="normal" textLength="38.99" lengthAdjust="spacingAndGlyphs" fill="#672D65" stroke="#fff" stroke-width="1.15" stroke-linejoin="miter" stroke-miterlimit="4">O</text>
<text x="1718.50" y="670.07" font-size="47.74" font-weight="normal" textLength="35.82" lengthAdjust="spacingAndGlyphs" fill="#672D65" stroke="#fff" stroke-width="1.15" stroke-linejoin="miter" stroke-miterlimit="4">N</text>
<text x="368.90" y="1115.92" font-size="52.54" font-weight="bold" textLength="35.91" lengthAdjust="spacingAndGlyphs" fill="#FFFFFF" stroke="#FFFFFF" stroke-width="3.15" stroke-linejoin="miter" stroke-miterlimit="4">R</text>
<text x="404.87" y="1115.92" font-size="52.54" font-weight="bold" textLength="34.41" lengthAdjust="spacingAndGlyphs" fill="#FFFFFF" stroke="#FFFFFF" stroke-width="3.15" stroke-linejoin="miter" stroke-miterlimit="4">E</text>
<text x="439.62" y="1115.92" font-size="52.54" font-weight="bold" textLength="41.84" lengthAdjust="spacingAndGlyphs" fill="#FFFFFF" stroke="#FFFFFF" stroke-width="3.15" stroke-linejoin="miter" stroke-miterlimit="4">G</text>
<text x="480.06" y="1115.92" font-size="52.54" font-weight="bold" textLength="40.45" lengthAdjust="spacingAndGlyphs" fill="#FFFFFF" stroke="#FFFFFF" stroke-width="3.15" stroke-linejoin="miter" stroke-miterlimit="4">U</text>
<text x="518.35" y="1115.92" font-size="52.54" font-weight="bold" textLength="33.58" lengthAdjust="spacingAndGlyphs" fill="#FFFFFF" stroke="#FFFFFF" stroke-width="3.15" stroke-linejoin="miter" stroke-miterlimit="4">L</text>
<text x="550.77" y="1115.92" font-size="52.54" font-weight="bold" textLength="42.02" lengthAdjust="spacingAndGlyphs" fill="#FFFFFF" stroke="#FFFFFF" stroke-width="3.15" stroke-linejoin="miter" stroke-miterlimit="4">A</text>
<text x="592.75" y="1115.92" font-size="52.54" font-weight="bold" textLength="36.40" lengthAdjust="spacingAndGlyphs" fill="#FFFFFF" stroke="#FFFFFF" stroke-width="3.15" stroke-linejoin="miter" stroke-miterlimit="4">R</text>
<text x="643.15" y="1115.92" font-size="52.54" font-weight="bold" textLength="33.58" lengthAdjust="spacingAndGlyphs" fill="#FFFFFF" stroke="#FFFFFF" stroke-width="3.15" stroke-linejoin="miter" stroke-miterlimit="4">L</text>
<text x="674.88" y="1115.92" font-size="52.54" font-weight="bold" textLength="42.00" lengthAdjust="spacingAndGlyphs" fill="#FFFFFF" stroke="#FFFFFF" stroke-width="3.15" stroke-linejoin="miter" stroke-miterlimit="4">A</text>
<text x="715.86" y="1115.92" font-size="52.54" font-weight="bold" textLength="33.91" lengthAdjust="spacingAndGlyphs" fill="#FFFFFF" stroke="#FFFFFF" stroke-width="3.15" stroke-linejoin="miter" stroke-miterlimit="4">S</text>
<text x="750.36" y="1115.92" font-size="52.54" font-weight="bold" textLength="39.60" lengthAdjust="spacingAndGlyphs" fill="#FFFFFF" stroke="#FFFFFF" stroke-width="3.15" stroke-linejoin="miter" stroke-miterlimit="4">H</text>
<text x="421.03" y="1173.93" font-size="52.27" font-weight="bold" textLength="34.93" lengthAdjust="spacingAndGlyphs" fill="#FFFFFF" stroke="#FFFFFF" stroke-width="3.14" stroke-linejoin="miter" stroke-miterlimit="4">E</text>
<text x="456.45" y="1173.93" font-size="52.27" font-weight="bold" textLength="36.76" lengthAdjust="spacingAndGlyphs" fill="#FFFFFF" stroke="#FFFFFF" stroke-width="3.14" stroke-linejoin="miter" stroke-miterlimit="4">X</text>
<text x="491.22" y="1173.93" font-size="52.27" font-weight="bold" textLength="38.62" lengthAdjust="spacingAndGlyphs" fill="#FFFFFF" stroke="#FFFFFF" stroke-width="3.14" stroke-linejoin="miter" stroke-miterlimit="4">T</text>
<text x="529.69" y="1173.93" font-size="52.27" font-weight="bold" textLength="33.31" lengthAdjust="spacingAndGlyphs" fill="#FFFFFF" stroke="#FFFFFF" stroke-width="3.14" stroke-linejoin="miter" stroke-miterlimit="4">E</text>
<text x="562.31" y="1173.93" font-size="52.27" font-weight="bold" textLength="40.17" lengthAdjust="spacingAndGlyphs" fill="#FFFFFF" stroke="#FFFFFF" stroke-width="3.14" stroke-linejoin="miter" stroke-miterlimit="4">N</text>
<text x="602.61" y="1173.93" font-size="52.27" font-weight="bold" textLength="32.91" lengthAdjust="spacingAndGlyphs" fill="#FFFFFF" stroke="#FFFFFF" stroke-width="3.14" stroke-linejoin="miter" stroke-miterlimit="4">S</text>
<text x="636.03" y="1173.93" font-size="52.27" font-weight="bold" textLength="19.12" lengthAdjust="spacingAndGlyphs" fill="#FFFFFF" stroke="#FFFFFF" stroke-width="3.14" stroke-linejoin="miter" stroke-miterlimit="4">I</text>
<text x="653.34" y="1173.93" font-size="52.27" font-weight="bold" textLength="45.35" lengthAdjust="spacingAndGlyphs" fill="#FFFFFF" stroke="#FFFFFF" stroke-width="3.14" stroke-linejoin="miter" stroke-miterlimit="4">O</text>
<text x="698.82" y="1173.93" font-size="52.27" font-weight="bold" textLength="39.04" lengthAdjust="spacingAndGlyphs" fill="#FFFFFF" stroke="#FFFFFF" stroke-width="3.14" stroke-linejoin="miter" stroke-miterlimit="4">N</text>
<text x="447.41" y="1570.93" font-size="52.27" font-weight="bold" textLength="41.26" lengthAdjust="spacingAndGlyphs" fill="#FFFFFF" stroke="#FFFFFF" stroke-width="3.14" stroke-linejoin="miter" stroke-miterlimit="4">N</text>
<text x="487.28" y="1570.93" font-size="52.27" font-weight="bold" textLength="42.05" lengthAdjust="spacingAndGlyphs" fill="#FFFFFF" stroke="#FFFFFF" stroke-width="3.14" stroke-linejoin="miter" stroke-miterlimit="4">A</text>
<text x="525.23" y="1570.93" font-size="52.27" font-weight="bold" textLength="32.96" lengthAdjust="spacingAndGlyphs" fill="#FFFFFF" stroke="#FFFFFF" stroke-width="3.14" stroke-linejoin="miter" stroke-miterlimit="4">T</text>
<text x="559.65" y="1570.93" font-size="52.27" font-weight="bold" textLength="38.25" lengthAdjust="spacingAndGlyphs" fill="#FFFFFF" stroke="#FFFFFF" stroke-width="3.14" stroke-linejoin="miter" stroke-miterlimit="4">U</text>
<text x="598.20" y="1570.93" font-size="52.27" font-weight="bold" textLength="34.88" lengthAdjust="spacingAndGlyphs" fill="#FFFFFF" stroke="#FFFFFF" stroke-width="3.14" stroke-linejoin="miter" stroke-miterlimit="4">R</text>
<text x="632.40" y="1570.93" font-size="52.27" font-weight="bold" textLength="44.48" lengthAdjust="spacingAndGlyphs" fill="#FFFFFF" stroke="#FFFFFF" stroke-width="3.14" stroke-linejoin="miter" stroke-miterlimit="4">A</text>
<text x="676.97" y="1570.93" font-size="52.27" font-weight="bold" textLength="32.52" lengthAdjust="spacingAndGlyphs" fill="#FFFFFF" stroke="#FFFFFF" stroke-width="3.14" stroke-linejoin="miter" stroke-miterlimit="4">L</text>
<text x="505.18" y="1629.44" font-size="51.87" font-weight="bold" textLength="32.51" lengthAdjust="spacingAndGlyphs" fill="#FFFFFF" stroke="#FFFFFF" stroke-width="3.11" stroke-linejoin="miter" stroke-miterlimit="4">L</text>
<text x="534.56" y="1629.44" font-size="51.87" font-weight="bold" textLength="43.03" lengthAdjust="spacingAndGlyphs" fill="#FFFFFF" stroke="#FFFFFF" stroke-width="3.11" stroke-linejoin="miter" stroke-miterlimit="4">A</text>
<text x="575.19" y="1629.44" font-size="51.87" font-weight="bold" textLength="35.95" lengthAdjust="spacingAndGlyphs" fill="#FFFFFF" stroke="#FFFFFF" stroke-width="3.11" stroke-linejoin="miter" stroke-miterlimit="4">S</text>
<text x="612.23" y="1629.44" font-size="51.87" font-weight="bold" textLength="40.13" lengthAdjust="spacingAndGlyphs" fill="#FFFFFF" stroke="#FFFFFF" stroke-width="3.11" stroke-linejoin="miter" stroke-miterlimit="4">H</text>
<text x="1290.45" y="1271.95" font-size="51.74" font-weight="bold" textLength="32.87" lengthAdjust="spacingAndGlyphs" fill="#FFFFFF" stroke="#FFFFFF" stroke-width="3.10" stroke-linejoin="miter" stroke-miterlimit="4">F</text>
<text x="1323.95" y="1271.95" font-size="51.74" font-weight="bold" textLength="34.64" lengthAdjust="spacingAndGlyphs" fill="#FFFFFF" stroke="#FFFFFF" stroke-width="3.10" stroke-linejoin="miter" stroke-miterlimit="4">L</text>
<text x="1353.26" y="1271.95" font-size="51.74" font-weight="bold" textLength="43.04" lengthAdjust="spacingAndGlyphs" fill="#FFFFFF" stroke="#FFFFFF" stroke-width="3.10" stroke-linejoin="miter" stroke-miterlimit="4">A</text>
<text x="1394.27" y="1271.95" font-size="51.74" font-weight="bold" textLength="31.58" lengthAdjust="spacingAndGlyphs" fill="#FFFFFF" stroke="#FFFFFF" stroke-width="3.10" stroke-linejoin="miter" stroke-miterlimit="4">T</text>
<text x="1439.81" y="1271.95" font-size="51.74" font-weight="bold" textLength="34.12" lengthAdjust="spacingAndGlyphs" fill="#FFFFFF" stroke="#FFFFFF" stroke-width="3.10" stroke-linejoin="miter" stroke-miterlimit="4">L</text>
<text x="1469.95" y="1271.95" font-size="51.74" font-weight="bold" textLength="43.50" lengthAdjust="spacingAndGlyphs" fill="#FFFFFF" stroke="#FFFFFF" stroke-width="3.10" stroke-linejoin="miter" stroke-miterlimit="4">A</text>
<text x="1513.04" y="1271.95" font-size="51.74" font-weight="bold" textLength="34.94" lengthAdjust="spacingAndGlyphs" fill="#FFFFFF" stroke="#FFFFFF" stroke-width="3.10" stroke-linejoin="miter" stroke-miterlimit="4">S</text>
<text x="1547.88" y="1271.95" font-size="51.74" font-weight="bold" textLength="38.47" lengthAdjust="spacingAndGlyphs" fill="#FFFFFF" stroke="#FFFFFF" stroke-width="3.10" stroke-linejoin="miter" stroke-miterlimit="4">H</text>
<text x="1279.94" y="1330.45" font-size="51.74" font-weight="bold" textLength="35.99" lengthAdjust="spacingAndGlyphs" fill="#FFFFFF" stroke="#FFFFFF" stroke-width="3.10" stroke-linejoin="miter" stroke-miterlimit="4">E</text>
<text x="1315.96" y="1330.45" font-size="51.74" font-weight="bold" textLength="36.76" lengthAdjust="spacingAndGlyphs" fill="#FFFFFF" stroke="#FFFFFF" stroke-width="3.10" stroke-linejoin="miter" stroke-miterlimit="4">X</text>
<text x="1350.74" y="1330.45" font-size="51.74" font-weight="bold" textLength="38.60" lengthAdjust="spacingAndGlyphs" fill="#FFFFFF" stroke="#FFFFFF" stroke-width="3.10" stroke-linejoin="miter" stroke-miterlimit="4">T</text>
<text x="1388.82" y="1330.45" font-size="51.74" font-weight="bold" textLength="32.23" lengthAdjust="spacingAndGlyphs" fill="#FFFFFF" stroke="#FFFFFF" stroke-width="3.10" stroke-linejoin="miter" stroke-miterlimit="4">E</text>
<text x="1421.83" y="1330.45" font-size="51.74" font-weight="bold" textLength="40.14" lengthAdjust="spacingAndGlyphs" fill="#FFFFFF" stroke="#FFFFFF" stroke-width="3.10" stroke-linejoin="miter" stroke-miterlimit="4">N</text>
<text x="1461.58" y="1330.45" font-size="51.74" font-weight="bold" textLength="33.91" lengthAdjust="spacingAndGlyphs" fill="#FFFFFF" stroke="#FFFFFF" stroke-width="3.10" stroke-linejoin="miter" stroke-miterlimit="4">S</text>
<text x="1495.54" y="1330.45" font-size="51.74" font-weight="bold" textLength="19.12" lengthAdjust="spacingAndGlyphs" fill="#FFFFFF" stroke="#FFFFFF" stroke-width="3.10" stroke-linejoin="miter" stroke-miterlimit="4">I</text>
<text x="1512.30" y="1330.45" font-size="51.74" font-weight="bold" textLength="46.39" lengthAdjust="spacingAndGlyphs" fill="#FFFFFF" stroke="#FFFFFF" stroke-width="3.10" stroke-linejoin="miter" stroke-miterlimit="4">O</text>
<text x="1557.33" y="1330.45" font-size="51.74" font-weight="bold" textLength="39.04" lengthAdjust="spacingAndGlyphs" fill="#FFFFFF" stroke="#FFFFFF" stroke-width="3.10" stroke-linejoin="miter" stroke-miterlimit="4">N</text>
<text x="1306.91" y="1570.93" font-size="52.27" font-weight="bold" textLength="41.26" lengthAdjust="spacingAndGlyphs" fill="#FFFFFF" stroke="#FFFFFF" stroke-width="3.14" stroke-linejoin="miter" stroke-miterlimit="4">N</text>
<text x="1346.25" y="1570.93" font-size="52.27" font-weight="bold" textLength="43.00" lengthAdjust="spacingAndGlyphs" fill="#FFFFFF" stroke="#FFFFFF" stroke-width="3.14" stroke-linejoin="miter" stroke-miterlimit="4">A</text>
<text x="1385.73" y="1570.93" font-size="52.27" font-weight="bold" textLength="32.96" lengthAdjust="spacingAndGlyphs" fill="#FFFFFF" stroke="#FFFFFF" stroke-width="3.14" stroke-linejoin="miter" stroke-miterlimit="4">T</text>
<text x="1419.15" y="1570.93" font-size="52.27" font-weight="bold" textLength="38.25" lengthAdjust="spacingAndGlyphs" fill="#FFFFFF" stroke="#FFFFFF" stroke-width="3.14" stroke-linejoin="miter" stroke-miterlimit="4">U</text>
<text x="1457.70" y="1570.93" font-size="52.27" font-weight="bold" textLength="34.88" lengthAdjust="spacingAndGlyphs" fill="#FFFFFF" stroke="#FFFFFF" stroke-width="3.14" stroke-linejoin="miter" stroke-miterlimit="4">R</text>
<text x="1491.90" y="1570.93" font-size="52.27" font-weight="bold" textLength="44.48" lengthAdjust="spacingAndGlyphs" fill="#FFFFFF" stroke="#FFFFFF" stroke-width="3.14" stroke-linejoin="miter" stroke-miterlimit="4">A</text>
<text x="1537.08" y="1570.93" font-size="52.27" font-weight="bold" textLength="31.54" lengthAdjust="spacingAndGlyphs" fill="#FFFFFF" stroke="#FFFFFF" stroke-width="3.14" stroke-linejoin="miter" stroke-miterlimit="4">L</text>
<text x="1364.67" y="1630.43" font-size="52.41" font-weight="bold" textLength="32.51" lengthAdjust="spacingAndGlyphs" fill="#FFFFFF" stroke="#FFFFFF" stroke-width="3.14" stroke-linejoin="miter" stroke-miterlimit="4">L</text>
<text x="1393.51" y="1630.43" font-size="52.41" font-weight="bold" textLength="43.99" lengthAdjust="spacingAndGlyphs" fill="#FFFFFF" stroke="#FFFFFF" stroke-width="3.14" stroke-linejoin="miter" stroke-miterlimit="4">A</text>
<text x="1434.68" y="1630.43" font-size="52.41" font-weight="bold" textLength="35.93" lengthAdjust="spacingAndGlyphs" fill="#FFFFFF" stroke="#FFFFFF" stroke-width="3.14" stroke-linejoin="miter" stroke-miterlimit="4">S</text>
<text x="1471.71" y="1630.43" font-size="52.41" font-weight="bold" textLength="40.16" lengthAdjust="spacingAndGlyphs" fill="#FFFFFF" stroke="#FFFFFF" stroke-width="3.14" stroke-linejoin="miter" stroke-miterlimit="4">H</text>
<text x="930.09" y="1369.54" font-size="45.33" font-weight="normal" textLength="26.10" lengthAdjust="spacingAndGlyphs" fill="#5E2A5C" stroke="#fff" stroke-width="1.09" stroke-linejoin="miter" stroke-miterlimit="4">L</text>
<text x="958.65" y="1369.54" font-size="45.33" font-weight="normal" textLength="31.41" lengthAdjust="spacingAndGlyphs" fill="#5E2A5C" stroke="#fff" stroke-width="1.09" stroke-linejoin="miter" stroke-miterlimit="4">A</text>
<text x="990.83" y="1369.54" font-size="45.33" font-weight="normal" textLength="26.68" lengthAdjust="spacingAndGlyphs" fill="#5E2A5C" stroke="#fff" stroke-width="1.09" stroke-linejoin="miter" stroke-miterlimit="4">S</text>
<text x="1016.81" y="1369.54" font-size="45.33" font-weight="normal" textLength="31.10" lengthAdjust="spacingAndGlyphs" fill="#5E2A5C" stroke="#fff" stroke-width="1.09" stroke-linejoin="miter" stroke-miterlimit="4">H</text>
<text x="878.24" y="1418.53" font-size="44.28" font-weight="normal" textLength="31.95" lengthAdjust="spacingAndGlyphs" fill="#5E2A5C" stroke="#fff" stroke-width="1.06" stroke-linejoin="miter" stroke-miterlimit="4">A</text>
<text x="910.47" y="1418.53" font-size="44.28" font-weight="normal" textLength="33.07" lengthAdjust="spacingAndGlyphs" fill="#5E2A5C" stroke="#fff" stroke-width="1.06" stroke-linejoin="miter" stroke-miterlimit="4">D</text>
<text x="943.42" y="1418.53" font-size="44.28" font-weight="normal" textLength="31.77" lengthAdjust="spacingAndGlyphs" fill="#5E2A5C" stroke="#fff" stroke-width="1.06" stroke-linejoin="miter" stroke-miterlimit="4">H</text>
<text x="977.25" y="1418.53" font-size="44.28" font-weight="normal" textLength="25.84" lengthAdjust="spacingAndGlyphs" fill="#5E2A5C" stroke="#fff" stroke-width="1.06" stroke-linejoin="miter" stroke-miterlimit="4">E</text>
<text x="1005.14" y="1418.53" font-size="44.28" font-weight="normal" textLength="24.85" lengthAdjust="spacingAndGlyphs" fill="#5E2A5C" stroke="#fff" stroke-width="1.06" stroke-linejoin="miter" stroke-miterlimit="4">S</text>
<text x="1031.07" y="1418.53" font-size="44.28" font-weight="normal" textLength="8.61" lengthAdjust="spacingAndGlyphs" fill="#5E2A5C" stroke="#fff" stroke-width="1.06" stroke-linejoin="miter" stroke-miterlimit="4">I</text>
<text x="1040.22" y="1418.53" font-size="44.28" font-weight="normal" textLength="32.11" lengthAdjust="spacingAndGlyphs" fill="#5E2A5C" stroke="#fff" stroke-width="1.06" stroke-linejoin="miter" stroke-miterlimit="4">V</text>
<text x="1074.30" y="1418.53" font-size="44.28" font-weight="normal" textLength="27.07" lengthAdjust="spacingAndGlyphs" fill="#5E2A5C" stroke="#fff" stroke-width="1.06" stroke-linejoin="miter" stroke-miterlimit="4">E</text>
</svg>
</body></html>
